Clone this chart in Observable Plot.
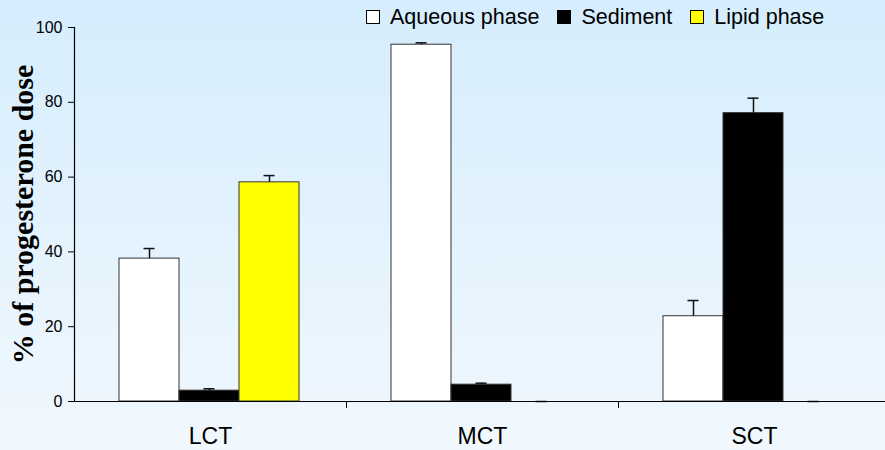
<!DOCTYPE html>
<html><head><meta charset="utf-8">
<script src="https://cdn.jsdelivr.net/npm/d3@7"></script>
<script src="https://cdn.jsdelivr.net/npm/@observablehq/plot@0.6"></script>
<style>
html,body{margin:0;padding:0;}
body{width:885px;height:450px;background:linear-gradient(#d5edfd,#f1f8fe);font-family:"Liberation Sans",Arial,sans-serif;overflow:hidden}
#wrap{position:relative;width:885px;height:450px}
#legend{position:absolute;left:366px;top:5px;display:flex;align-items:center;font-size:21.5px;color:#000;line-height:24px}
.item{display:flex;align-items:center;margin-right:18px}
.sw{width:12px;height:12px;border:1px solid #000;margin-right:10px}
#chart svg{display:block}
</style></head>
<body><div id="wrap"><div id="chart"></div><div id="legend"></div></div>
<script>
const categories = ["LCT", "MCT", "SCT"];
const series = ["Aqueous phase", "Sediment", "Lipid phase"];
const seriesColors = ["#ffffff", "#000000", "#ffff00"];
const aqueous = [38.2, 95.4, 22.8];
const aqueousErr = [2.7, 0.5, 4.2];
const sediment = [2.9, 4.5, 77.1];
const sedimentErr = [0.5, 0.4, 4.0];
const lipid = [58.6, 0, 0];
const lipidErr = [1.8, 0, 0];
const yTicks = [0, 20, 40, 60, 80, 100];
const yLabel = "% of progesterone dose";

const values = [aqueous, sediment, lipid];
const errors = [aqueousErr, sedimentErr, lipidErr];
const data = [];
categories.forEach((cat, i) => {
  series.forEach((s, j) => {
    data.push({cat, series: s, value: values[j][i], err: errors[j][i]});
  });
});

const spike = {draw(context, l) { context.moveTo(0, 0); context.lineTo(0, -l); }};

const plot = Plot.plot({
  width: 885, height: 450,
  marginLeft: 74, marginRight: 0, marginTop: 27, marginBottom: 49,
  style: {background: "transparent", fontFamily: "'Liberation Sans', Arial, sans-serif", overflow: "visible", color: "#000"},
  fx: {domain: categories, range: [74, 890], padding: 0, label: null},
  x: {domain: series, axis: null, paddingInner: 0, paddingOuter: 0.74, align: 0.49},
  y: {domain: [0, 100], axis: null},
  color: {domain: series, range: seriesColors},
  marks: [
    Plot.barY(data, {fx: "cat", x: "series", y: "value", fill: "series", stroke: "#333", strokeWidth: 1}),
    Plot.ruleX(data, {fx: "cat", x: "series", y1: "value", y2: d => d.value + d.err, stroke: "#111", strokeWidth: 1.5}),
    Plot.tickY(data, {fx: "cat", x: "series", y: d => d.value + d.err, stroke: "#111", strokeWidth: 1.5, insetLeft: 24.5, insetRight: 24.5}),
    Plot.ruleY([0], {stroke: "#000", strokeWidth: 1.2}),
    Plot.frame({anchor: "left", facetAnchor: "left", stroke: "#000", strokeWidth: 1.2}),
    Plot.vector(categories.slice(0, 2), {fx: d => d, frameAnchor: "bottom-right", length: 6, rotate: 180, anchor: "start", shape: spike, stroke: "#000", strokeWidth: 1}),
    Plot.axisY({ticks: yTicks, tickSize: 6, tickPadding: 6, fontSize: 16, label: null, tickFormat: d => d}),
    Plot.axisFx({anchor: "bottom", tickSize: 0, tickPadding: 26, fontSize: 23, label: null}),
    Plot.text([yLabel], {frameAnchor: "left", facetAnchor: "left", textAnchor: "middle", rotate: -90, dx: -51, fontSize: 30, fontFamily: "'Liberation Serif', 'Times New Roman', serif", fontWeight: "bold", fill: "#000"})
  ]
});
document.getElementById("chart").appendChild(plot);

const legend = d3.select("#legend");
series.forEach((s, j) => {
  const item = legend.append("div").attr("class", "item");
  item.append("div").attr("class", "sw").style("background", seriesColors[j]);
  item.append("span").text(s);
});
</script>
</body></html>
